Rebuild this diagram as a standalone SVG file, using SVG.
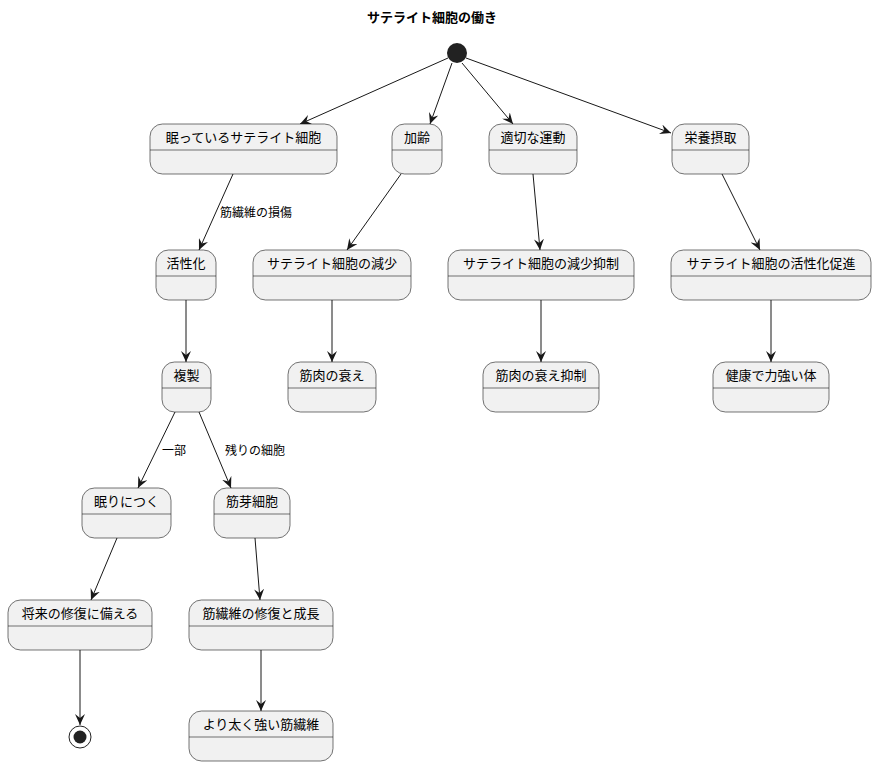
<svg xmlns="http://www.w3.org/2000/svg" width="877" height="766" viewBox="0 0 877 766">
<defs>
<style>
.b rect{fill:#F1F1F1;stroke:#181818;stroke-width:0.6}
.b line{stroke:#181818;stroke-width:0.6}
text{font-family:"Noto Sans CJK JP","Noto Sans",sans-serif;font-size:13px;fill:#000}
.t{text-anchor:middle}
#edges line{stroke:#181818;stroke-width:1;marker-end:url(#a)}
.l{font-size:12px}
</style>
<marker id="a" viewBox="0 0 12 10" refX="11" refY="5" markerWidth="12" markerHeight="10" markerUnits="userSpaceOnUse" orient="auto">
<path d="M0,0 L11,5 L0,10 L4,5 Z" fill="#181818"/>
</marker>
</defs>
<rect width="877" height="766" fill="#fff"/>
<text x="432" y="22" class="t" style="font-weight:bold">サテライト細胞の働き</text>
<g id="edges">
<line x1="448" y1="58" x2="300" y2="124"/>
<line x1="452" y1="63" x2="430" y2="124"/>
<line x1="462" y1="63" x2="513" y2="124"/>
<line x1="466" y1="58" x2="671" y2="133"/>
<line x1="233" y1="174" x2="199" y2="250"/>
<line x1="401" y1="174" x2="347" y2="250"/>
<line x1="533" y1="174" x2="540" y2="250"/>
<line x1="722" y1="174" x2="760" y2="250"/>
<line x1="186" y1="300" x2="186" y2="362"/>
<line x1="332" y1="300" x2="332" y2="362"/>
<line x1="541" y1="300" x2="541" y2="362"/>
<line x1="771" y1="300" x2="771" y2="362"/>
<line x1="175" y1="412" x2="138" y2="488"/>
<line x1="199" y1="412" x2="231" y2="488"/>
<line x1="117" y1="538" x2="91" y2="600"/>
<line x1="255" y1="538" x2="260" y2="600"/>
<line x1="80" y1="650" x2="80" y2="725"/>
<line x1="261" y1="650" x2="261" y2="711"/>
<text x="220" y="217" class="l">筋繊維の損傷</text>
<text x="162" y="455" class="l">一部</text>
<text x="225" y="455" class="l">残りの細胞</text>
</g>
<g id="start"><circle cx="457" cy="53" r="10" fill="#222"/></g>
<g id="end"><circle cx="80" cy="737" r="11" fill="#fff" stroke="#222" stroke-width="1"/><circle cx="80" cy="737" r="6.5" fill="#222"/></g>
<g id="n1" class="b"><rect x="150" y="124" width="187" height="50" rx="12.5"/><line x1="150" y1="150" x2="337" y2="150"/><text x="243.5" y="142" class="t">眠っているサテライト細胞</text></g>
<g id="n2" class="b"><rect x="392" y="124" width="50" height="50" rx="12.5"/><line x1="392" y1="150" x2="442" y2="150"/><text x="417" y="142" class="t">加齢</text></g>
<g id="n3" class="b"><rect x="489" y="124" width="88" height="50" rx="12.5"/><line x1="489" y1="150" x2="577" y2="150"/><text x="533" y="142" class="t">適切な運動</text></g>
<g id="n4" class="b"><rect x="672" y="124" width="77" height="50" rx="12.5"/><line x1="672" y1="150" x2="749" y2="150"/><text x="710.5" y="142" class="t">栄養摂取</text></g>
<g id="n5" class="b"><rect x="156" y="250" width="60" height="50" rx="12.5"/><line x1="156" y1="276" x2="216" y2="276"/><text x="186" y="268" class="t">活性化</text></g>
<g id="n6" class="b"><rect x="253" y="250" width="158" height="50" rx="12.5"/><line x1="253" y1="276" x2="411" y2="276"/><text x="332" y="268" class="t">サテライト細胞の減少</text></g>
<g id="n7" class="b"><rect x="448" y="250" width="186" height="50" rx="12.5"/><line x1="448" y1="276" x2="634" y2="276"/><text x="541" y="268" class="t">サテライト細胞の減少抑制</text></g>
<g id="n8" class="b"><rect x="671" y="250" width="200" height="50" rx="12.5"/><line x1="671" y1="276" x2="871" y2="276"/><text x="771" y="268" class="t">サテライト細胞の活性化促進</text></g>
<g id="n9" class="b"><rect x="162" y="362" width="49" height="50" rx="12.5"/><line x1="162" y1="388" x2="211" y2="388"/><text x="186.5" y="380" class="t">複製</text></g>
<g id="n10" class="b"><rect x="288" y="362" width="88" height="50" rx="12.5"/><line x1="288" y1="388" x2="376" y2="388"/><text x="332" y="380" class="t">筋肉の衰え</text></g>
<g id="n11" class="b"><rect x="483" y="362" width="116" height="50" rx="12.5"/><line x1="483" y1="388" x2="599" y2="388"/><text x="541" y="380" class="t">筋肉の衰え抑制</text></g>
<g id="n12" class="b"><rect x="713" y="362" width="116" height="50" rx="12.5"/><line x1="713" y1="388" x2="829" y2="388"/><text x="771" y="380" class="t">健康で力強い体</text></g>
<g id="n13" class="b"><rect x="82" y="488" width="89" height="50" rx="12.5"/><line x1="82" y1="514" x2="171" y2="514"/><text x="126.5" y="506" class="t">眠りにつく</text></g>
<g id="n14" class="b"><rect x="214" y="488" width="76" height="50" rx="12.5"/><line x1="214" y1="514" x2="290" y2="514"/><text x="252" y="506" class="t">筋芽細胞</text></g>
<g id="n15" class="b"><rect x="8" y="600" width="144" height="50" rx="12.5"/><line x1="8" y1="626" x2="152" y2="626"/><text x="80" y="618" class="t">将来の修復に備える</text></g>
<g id="n16" class="b"><rect x="189" y="600" width="144" height="50" rx="12.5"/><line x1="189" y1="626" x2="333" y2="626"/><text x="261" y="618" class="t">筋繊維の修復と成長</text></g>
<g id="n17" class="b"><rect x="189" y="711" width="144" height="50" rx="12.5"/><line x1="189" y1="737" x2="333" y2="737"/><text x="261" y="729" class="t">より太く強い筋繊維</text></g>
</svg>
